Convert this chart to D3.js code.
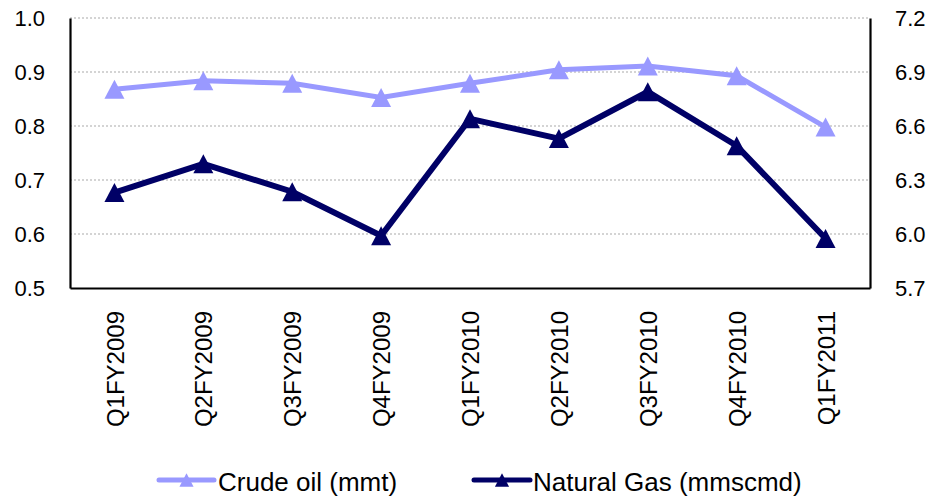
<!DOCTYPE html>
<html><head><meta charset="utf-8">
<script src="https://cdn.jsdelivr.net/npm/d3@7"></script>
<style>body{margin:0;background:#fff}svg{display:block}text{font-family:"Liberation Sans",Arial,sans-serif;fill:#000}</style>
</head><body>
<svg id="c" width="944" height="497"></svg>
<script>
const categories = ["Q1FY2009","Q2FY2009","Q3FY2009","Q4FY2009","Q1FY2010","Q2FY2010","Q3FY2010","Q4FY2010","Q1FY2011"];
const crudeOil = [0.868,0.884,0.879,0.853,0.879,0.904,0.911,0.893,0.798];
const naturalGas = [6.23,6.39,6.235,5.99,6.64,6.53,6.79,6.49,5.975];
const leftTicks = [0.5,0.6,0.7,0.8,0.9,1.0];
const rightTicks = [5.7,6.0,6.3,6.6,6.9,7.2];
const seriesNames = ["Crude oil (mmt)","Natural Gas (mmscmd)"];
const colors = ["#9999FF","#000066"];

const svg = d3.select("#c");
const L=70,R=870,T=18,B=288;
const x = d3.scalePoint().domain(categories).range([L,R]).padding(0.5);
const yL = d3.scaleLinear().domain([0.5,1.0]).range([B,T]);
const yR = d3.scaleLinear().domain([5.7,7.2]).range([B,T]);

// box-centered triangle symbol
const tri = {draw(ctx,size){const w=Math.sqrt(size);const h=w*0.95;ctx.moveTo(0,-h/2);ctx.lineTo(w/2,h/2);ctx.lineTo(-w/2,h/2);ctx.closePath();}};

// gridlines
svg.append("g").selectAll("line").data(leftTicks.slice(1)).join("line")
  .attr("x1",L).attr("x2",R).attr("y1",d=>yL(d)).attr("y2",d=>yL(d))
  .attr("stroke","#aaa").attr("stroke-width",1.2).attr("stroke-dasharray","2,2");

// axes
const gl = svg.append("g").attr("transform",`translate(${L},0)`).call(d3.axisLeft(yL).tickValues(leftTicks).tickFormat(d3.format(".1f")).tickSize(0).tickPadding(25));
const gr = svg.append("g").attr("transform",`translate(${R},0)`).call(d3.axisRight(yR).tickValues(rightTicks).tickFormat(d3.format(".1f")).tickSize(0).tickPadding(25));
const gb = svg.append("g").attr("transform",`translate(0,${B})`).call(d3.axisBottom(x).tickSize(0));
[gl,gr,gb].forEach(g=>{g.select(".domain").attr("stroke","#000").attr("stroke-width",2.2);});
gl.selectAll("text").attr("font-size",22).attr("font-family","Liberation Sans, Arial, sans-serif");
gr.selectAll("text").attr("font-size",22).attr("font-family","Liberation Sans, Arial, sans-serif");
gb.selectAll("text").attr("font-size",24).attr("font-family","Liberation Sans, Arial, sans-serif")
  .attr("text-anchor","end").attr("transform","rotate(-90)").attr("x",-23).attr("y",0).attr("dy","0.36em");

// lines
const data = [crudeOil.map((v,i)=>[x(categories[i]),yL(v)]), naturalGas.map((v,i)=>[x(categories[i]),yR(v)])];
const widths=[5,6];
data.forEach((pts,k)=>{
  svg.append("path").attr("d",d3.line()(pts)).attr("fill","none").attr("stroke",colors[k]).attr("stroke-width",widths[k]).attr("stroke-linejoin","miter");
  svg.append("g").selectAll("path").data(pts).join("path")
    .attr("transform",d=>`translate(${d[0]},${d[1]})`)
    .attr("d",d3.symbol().type(tri).size(400)).attr("fill",colors[k]);
});

// legend
const leg = [{x1:159,x2:214,tx:218},{x1:474,x2:530,tx:533}];
leg.forEach((l,k)=>{
  const g=svg.append("g");
  g.append("line").attr("x1",l.x1).attr("x2",l.x2).attr("y1",480).attr("y2",480).attr("stroke",colors[k]).attr("stroke-width",5).attr("stroke-linecap","round");
  g.append("path").attr("transform",`translate(${(l.x1+l.x2)/2},480)`).attr("d",d3.symbol().type(tri).size(200)).attr("fill",colors[k]);
  g.append("text").attr("x",l.tx).attr("y",491).attr("font-size",26).text(seriesNames[k]);
});
</script>
</body></html>
